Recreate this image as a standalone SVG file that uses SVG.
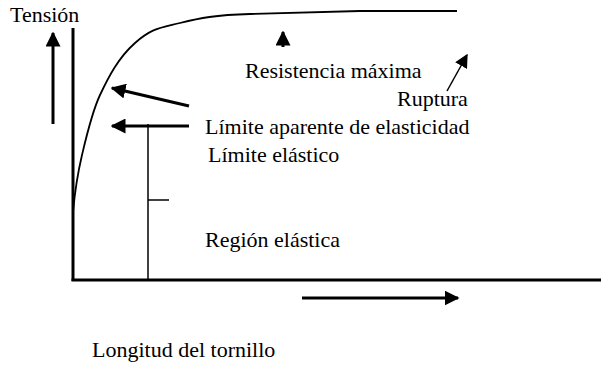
<svg xmlns="http://www.w3.org/2000/svg" width="601" height="365" viewBox="0 0 601 365">
<style>
text{font-family:"Liberation Serif","Times New Roman",serif;font-size:22px;fill:#000}
.ax{stroke:#000;stroke-width:3;fill:none}
.ar{stroke:#000;stroke-width:3;fill:none}
.thin{stroke:#000;stroke-width:1.5;fill:none}
.curve{stroke:#000;stroke-width:1.8;fill:none}
</style>
<defs>
<marker id="ah" viewBox="0 0 10 10" refX="9" refY="5" markerWidth="5" markerHeight="5" markerUnits="strokeWidth" orient="auto">
<path d="M0,0 L10,5 L0,10 Z" fill="#000"/>
</marker>
<marker id="ahs" viewBox="0 0 10 10" refX="9" refY="5" markerWidth="9" markerHeight="9" markerUnits="strokeWidth" orient="auto">
<path d="M0,0 L10,5 L0,10 Z" fill="#000"/>
</marker>
</defs>
<g id="axes">
<line class="ax" x1="73" y1="28" x2="73" y2="281"/>
<line class="ax" x1="71.5" y1="280" x2="601" y2="280"/>
</g>
<g id="curve">
<path class="curve" d="M73,262 L73,212 C75,190 78,172 82,155 S92,112 100,95 S118,58 135,43 S160,28 180,23 S215,15 250,14 S320,12 360,11 L457,11"/>
</g>
<g id="connectors">
<line class="ar" x1="53" y1="124" x2="53" y2="33" marker-end="url(#ah)"/>
<line class="ar" x1="189" y1="106" x2="112" y2="88" marker-end="url(#ah)"/>
<line class="ar" x1="189" y1="126" x2="112" y2="126" marker-end="url(#ah)"/>
<line class="ar" x1="283" y1="47" x2="283" y2="32" marker-end="url(#ah)"/>
<line class="thin" x1="447" y1="91" x2="467" y2="55" marker-end="url(#ahs)"/>
<line class="ar" x1="302" y1="298" x2="458" y2="298" marker-end="url(#ah)"/>
<line class="thin" x1="148" y1="124" x2="148" y2="280"/>
<line class="thin" x1="148" y1="200" x2="169" y2="200"/>
</g>
<g id="labels">
<text x="10" y="22">Tensión</text>
<text x="245" y="78">Resistencia máxima</text>
<text x="397" y="106">Ruptura</text>
<text x="205" y="134">Límite aparente de elasticidad</text>
<text x="208" y="162">Límite elástico</text>
<text x="205" y="247">Región elástica</text>
<text x="92" y="357">Longitud del tornillo</text>
</g>
</svg>
